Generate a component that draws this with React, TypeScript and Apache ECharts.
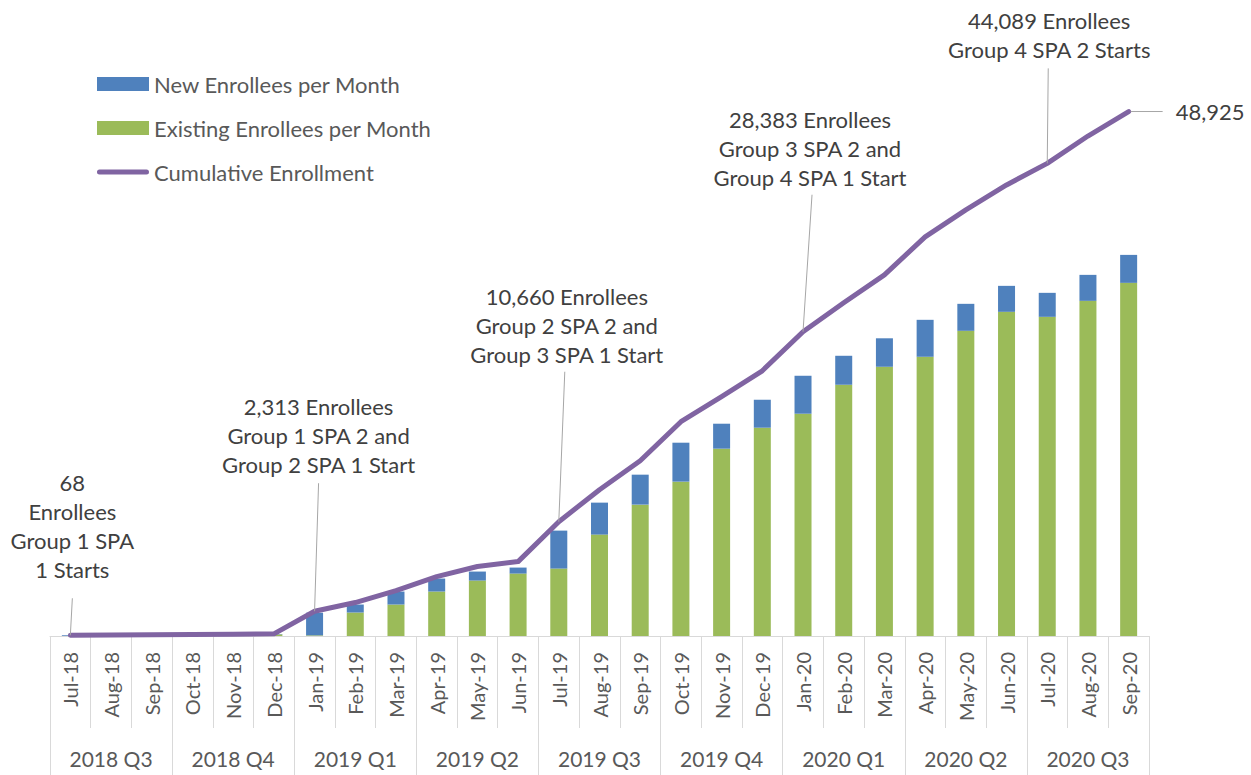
import React, { useEffect, useRef } from "react";
import * as echarts from "echarts";

const months = [
  "Jul-18", "Aug-18", "Sep-18", "Oct-18", "Nov-18", "Dec-18",
  "Jan-19", "Feb-19", "Mar-19", "Apr-19", "May-19", "Jun-19",
  "Jul-19", "Aug-19", "Sep-19", "Oct-19", "Nov-19", "Dec-19",
  "Jan-20", "Feb-20", "Mar-20", "Apr-20", "May-20", "Jun-20",
  "Jul-20", "Aug-20", "Sep-20",
];
const quarters = [
  "2018 Q3", "2018 Q4", "2019 Q1", "2019 Q2", "2019 Q3",
  "2019 Q4", "2020 Q1", "2020 Q2", "2020 Q3",
];
const existingEnrollees = [
  0, 0, 0, 0, 0, 150, 60, 2190, 2935, 4147, 5172, 5824, 6290, 9459,
  12254, 14398, 17473, 19430, 20735, 23437, 25115, 26047, 28469, 30240,
  29774, 31265, 32943,
];
const newEnrollees = [
  68, 27, 25, 30, 20, 30, 2113, 745, 1212, 1211, 839, 559, 3541, 2982,
  2796, 3634, 2330, 2609, 3541, 2703, 2656, 3447, 2517, 2423, 2237, 2423,
  2609,
];
const cumulativeEnrollment = [
  68, 95, 120, 150, 170, 200, 2313, 3120, 4240, 5545, 6480, 6940, 10660,
  13650, 16350, 19990, 22320, 24740, 28383, 31080, 33690, 37230, 39745,
  42075, 44089, 46640, 48925,
];

// annotation: month index, text lines, layout offsets relative to the data point
const annotations = [
  { idx: 0, lines: ["68", "Enrollees", "Group 1 SPA", "1 Starts"], dx: 2, dyTop: -167, ldx: 2, ldy: -37 },
  { idx: 6, lines: ["2,313 Enrollees", "Group 1 SPA 2 and", "Group 2 SPA 1 Start"], dx: 4, dyTop: -219, ldx: 4, ldy: -128 },
  { idx: 12, lines: ["10,660 Enrollees", "Group 2 SPA 2 and", "Group 3 SPA 1 Start"], dx: 8, dyTop: -240, ldx: 6, ldy: -150 },
  { idx: 18, lines: ["28,383 Enrollees", "Group 3 SPA 2 and", "Group 4 SPA 1 Start"], dx: 7, dyTop: -227, ldx: 9, ldy: -137 },
  { idx: 24, lines: ["44,089 Enrollees", "Group 4 SPA 2 Starts"], dx: 2, dyTop: -157, ldx: 1, ldy: -95 },
];

const FONT = "Lato";
const BLUE = "#4F81BD";
const GREEN = "#9BBB59";
const PURPLE = "#8064A2";
const AXIS = "#d9d9d9";
const LABEL = "#595959";
const ANNOT = "#404040";
const LEADER = "#a6a6a6";
const LINE_ICON =
  "path://M0,0 M52,14 M2.5,4.5 L49.5,4.5 A2.5,2.5 0 0 1 49.5,9.5 L2.5,9.5 A2.5,2.5 0 0 1 2.5,4.5 Z";

export default function App() {
  const ref = useRef<HTMLDivElement>(null);
  useEffect(() => {
    if (!ref.current) return;
    const chart = echarts.init(ref.current, undefined, { renderer: "svg" });
    chart.setOption({
      animation: false,
      backgroundColor: "#ffffff",
      textStyle: { fontFamily: FONT },
      grid: { left: 50, right: 102, top: 100, bottom: 139, containLabel: false },
      legend: {
        orient: "vertical",
        left: 92,
        top: 68,
        itemWidth: 52,
        itemHeight: 14,
        itemGap: 22,
        textStyle: { fontFamily: FONT, fontSize: 22, color: LABEL, lineHeight: 22 },
        data: [
          { name: "New Enrollees per Month", icon: "rect" },
          { name: "Existing Enrollees per Month", icon: "rect" },
          { name: "Cumulative Enrollment", icon: LINE_ICON },
        ],
      },
      xAxis: [
        {
          type: "category",
          data: months,
          position: "bottom",
          axisLine: { show: true, lineStyle: { color: AXIS, width: 1 } },
          axisTick: { show: true, interval: 0, length: 92, lineStyle: { color: AXIS } },
          axisLabel: { interval: 0, rotate: 90, margin: 16, fontSize: 20, color: LABEL, fontFamily: FONT },
        },
        {
          type: "category",
          data: quarters,
          position: "bottom",
          offset: 0,
          axisLine: { show: false },
          axisTick: { show: true, interval: 0, length: 140, lineStyle: { color: AXIS } },
          axisLabel: { interval: 0, margin: 112, fontSize: 21, lineHeight: 21, color: LABEL, fontFamily: FONT },
        },
      ],
      yAxis: { type: "value", min: 0, max: 50000, show: false, splitLine: { show: false } },
      series: [
        {
          name: "Existing Enrollees per Month",
          type: "bar",
          stack: "monthly",
          barWidth: 17,
          itemStyle: { color: GREEN },
          data: existingEnrollees,
        },
        {
          name: "New Enrollees per Month",
          type: "bar",
          stack: "monthly",
          barWidth: 17,
          itemStyle: { color: BLUE },
          data: newEnrollees,
        },
        {
          name: "Cumulative Enrollment",
          type: "line",
          symbol: "none",
          z: 5,
          lineStyle: { color: PURPLE, width: 5, cap: "round", join: "round" },
          itemStyle: { color: PURPLE },
          data: cumulativeEnrollment,
        },
      ],
    });

    const graphics: any[] = [];
    annotations.forEach((a) => {
      const p = chart.convertToPixel({ xAxisIndex: 0, yAxisIndex: 0 }, [a.idx, cumulativeEnrollment[a.idx]]) as number[];
      graphics.push({
        type: "line",
        silent: true,
        shape: { x1: p[0] + a.ldx, y1: p[1] + a.ldy, x2: p[0], y2: p[1] },
        style: { stroke: LEADER, lineWidth: 1 },
        z: 10,
      });
      graphics.push({
        type: "text",
        silent: true,
        x: p[0] + a.dx,
        y: p[1] + a.dyTop,
        style: {
          text: a.lines.join("\n"),
          fontFamily: FONT,
          fontSize: 22,
          lineHeight: 29,
          fill: ANNOT,
          align: "center",
          verticalAlign: "top",
        },
        z: 10,
      });
    });
    const lastIdx = cumulativeEnrollment.length - 1;
    const lp = chart.convertToPixel({ xAxisIndex: 0, yAxisIndex: 0 }, [lastIdx, cumulativeEnrollment[lastIdx]]) as number[];
    graphics.push({
      type: "line",
      silent: true,
      shape: { x1: lp[0] + 2, y1: lp[1], x2: lp[0] + 34, y2: lp[1] },
      style: { stroke: LEADER, lineWidth: 1 },
      z: 10,
    });
    graphics.push({
      type: "text",
      silent: true,
      x: lp[0] + 47,
      y: lp[1],
      style: {
        text: cumulativeEnrollment[lastIdx].toLocaleString("en-US"),
        fontFamily: FONT,
        fontSize: 22,
        fill: ANNOT,
        align: "left",
        verticalAlign: "middle",
      },
      z: 10,
    });
    chart.setOption({ graphic: graphics });

    return () => chart.dispose();
  }, []);
  return (
    <div
      ref={ref}
      style={{ position: "absolute", left: 0, top: 0, width: 1251, height: 775 }}
    />
  );
}
